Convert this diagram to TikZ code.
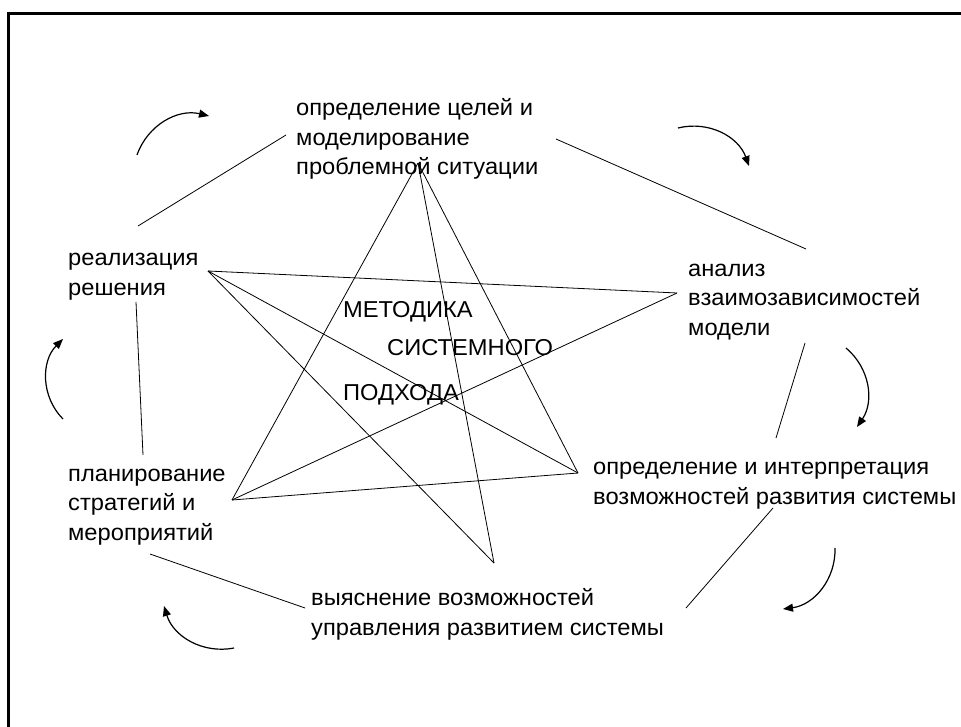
\documentclass[tikz,border=0pt]{standalone}
\usepackage{fontspec}
\setmainfont[FakeStretch=1.03]{Liberation Sans}
\usetikzlibrary{arrows.meta}
\begin{document}
\begin{tikzpicture}[x=1pt,y=-1pt,
  lbl/.style={anchor=base west,inner sep=0pt,align=left,font=\fontsize{23}{29.5}\selectfont},
  starline/.style={line width=0.8pt},
  link/.style={line width=0.8pt},
  cyc/.style={line width=1.2pt,-{Triangle[length=10pt,width=8pt]}},
  frameline/.style={line width=3pt}]
\useasboundingbox (0,0) rectangle (961,727);
% frame
\coordinate (fbl) at (8.5,727);
\coordinate (ftl) at (8.5,13.5);
\coordinate (ftr) at (961,13.5);
\draw[frameline] (fbl) -- (ftl) -- (ftr);

% texts (anchored at the baseline of the last line)
\node[lbl] (goal) at (296,175) {определение целей и\\моделирование\\проблемной ситуации};
\node[lbl] (anal) at (688,335) {анализ\\взаимозависимостей\\модели};
\node[lbl] (interp) at (593,504) {определение и интерпретация\\возможностей развития системы};
\node[lbl] (ctrl) at (311,635) {выяснение возможностей\\управления развитием системы};
\node[lbl] (plan) at (68,540) {планирование\\стратегий и\\мероприятий};
\node[lbl] (real) at (68,295) {реализация\\решения};
\node[lbl] (t1) at (343,317) {МЕТОДИКА};
\node[lbl] (t2) at (387,355) {СИСТЕМНОГО};
\node[lbl] (t3) at (343,400) {ПОДХОДА};

% star vertices
\coordinate (A) at (418,163);
\coordinate (B) at (208,271);
\coordinate (C) at (677,293);
\coordinate (D) at (578,473);
\coordinate (E) at (494,563);
\coordinate (F) at (232,500);
\draw[starline] (A) -- (F);
\draw[starline] (A) -- (E);
\draw[starline] (A) -- (D);
\draw[starline] (B) -- (C);
\draw[starline] (B) -- (D);
\draw[starline] (B) -- (E);
\draw[starline] (C) -- (F);
\draw[starline] (F) -- (D);

% outer links
\coordinate (l1a) at (138,226); \coordinate (l1b) at (286,135);
\coordinate (l2a) at (556,139); \coordinate (l2b) at (806,249);
\coordinate (l3a) at (805,343); \coordinate (l3b) at (776,438);
\coordinate (l4a) at (773,508); \coordinate (l4b) at (686,608);
\coordinate (l5a) at (305,608); \coordinate (l5b) at (150,554);
\coordinate (l6a) at (143,455); \coordinate (l6b) at (136,302);
\draw[link] (l1a) -- (l1b);
\draw[link] (l2a) -- (l2b);
\draw[link] (l3a) -- (l3b);
\draw[link] (l4a) -- (l4b);
\draw[link] (l5a) -- (l5b);
\draw[link] (l6a) -- (l6b);

% cycle arrows
\coordinate (r1a) at (137,155); \coordinate (r1b) at (209,116);
\coordinate (r2a) at (678,128); \coordinate (r2b) at (749,166);
\coordinate (r3a) at (846,348); \coordinate (r3b) at (857,427);
\coordinate (r4a) at (835,548); \coordinate (r4b) at (783,609);
\coordinate (r5a) at (234,648); \coordinate (r5b) at (164,606);
\coordinate (r6a) at (63,419);  \coordinate (r6b) at (63,339);
\draw[cyc] (r1a) to[bend left=42] (r1b);
\draw[cyc] (r2a) to[bend left=42] (r2b);
\draw[cyc] (r3a) to[bend left=42] (r3b);
\draw[cyc] (r4a) to[bend left=42] (r4b);
\draw[cyc] (r5a) to[bend left=42] (r5b);
\draw[cyc] (r6a) to[bend left=45] (r6b);
\end{tikzpicture}
\end{document}
